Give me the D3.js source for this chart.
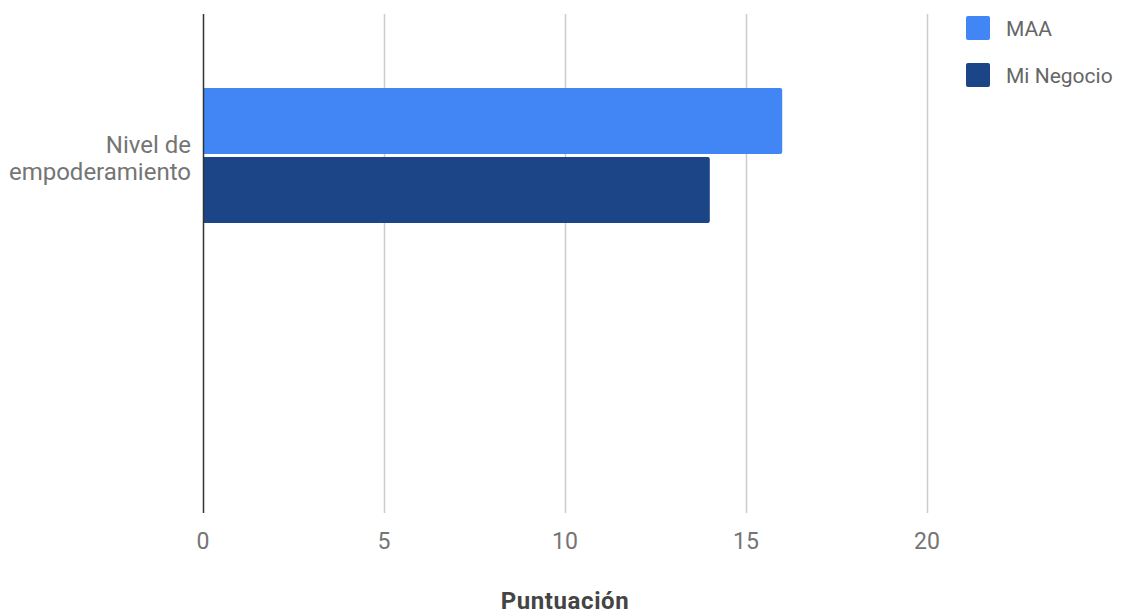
<!DOCTYPE html>
<html>
<head>
    <meta charset="utf-8" />
    <title>Nivel de empoderamiento</title>
    <style>
        body { margin: 0; background: #fff; }
        #chart { width: 1125px; height: 614px; }
        text { font-family: Roboto, "Noto Sans", sans-serif; }
    </style>
</head>
<body>
    <div id="chart"></div>
    <script src="https://cdnjs.cloudflare.com/ajax/libs/d3/7.8.5/d3.min.js"></script>
    <script>
        var categories = ["Nivel de empoderamiento"]
        var categoryLines = [["Nivel de", "empoderamiento"]]
        var seriesNames = ["MAA", "Mi Negocio"]
        var maaValues = [16]
        var negocioValues = [14]
        var xTicks = [0, 5, 10, 15, 20]
        var colors = ["#4285f4", "#1c4587"]
        var axisTitle = "Puntuación"

        var width = 1125, height = 614
        var margin = { top: 14, left: 203, right: 198, bottom: 101 }
        var plotW = width - margin.left - margin.right   // 724
        var plotH = height - margin.top - margin.bottom  // 499

        var svg = d3.select("#chart").append("svg")
            .attr("width", width)
            .attr("height", height)

        var x = d3.scaleLinear().domain([0, 20]).range([margin.left, margin.left + plotW])

        // category band sits in the upper part of the plot
        var y0 = d3.scaleBand().domain(categories)
            .range([margin.top + 74, margin.top + 209])
        var y1 = d3.scaleBand().domain(seriesNames)
            .range([0, y0.bandwidth()])
            .paddingInner(0.045)

        // gridlines
        svg.append("g").selectAll("line")
            .data(xTicks.filter(function (d) { return d !== 0 }))
            .enter().append("line")
            .attr("x1", function (d) { return x(d) + 0.5 })
            .attr("x2", function (d) { return x(d) + 0.5 })
            .attr("y1", margin.top)
            .attr("y2", margin.top + plotH)
            .attr("stroke", "#cccccc")
            .attr("stroke-width", 1.5)

        // bars
        var rows = categories.map(function (c, i) {
            return { cat: c, values: [maaValues[i], negocioValues[i]] }
        })
        var groups = svg.append("g").selectAll("g")
            .data(rows)
            .enter().append("g")
            .attr("transform", function (d) { return "translate(0," + y0(d.cat) + ")" })

        groups.selectAll("path")
            .data(function (d) {
                return d.values.map(function (v, i) { return { key: seriesNames[i], value: v, i: i } })
            })
            .enter().append("path")
            .attr("fill", function (d) { return colors[d.i] })
            .attr("d", function (d) {
                var x0 = x(0), x1 = x(d.value), yt = y1(d.key), h = y1.bandwidth(), r = 2
                return "M" + x0 + "," + yt +
                    "H" + (x1 - r) + "Q" + x1 + "," + yt + " " + x1 + "," + (yt + r) +
                    "V" + (yt + h - r) + "Q" + x1 + "," + (yt + h) + " " + (x1 - r) + "," + (yt + h) +
                    "H" + x0 + "Z"
            })

        // zero axis line
        svg.append("line")
            .attr("x1", x(0) + 0.5).attr("x2", x(0) + 0.5)
            .attr("y1", margin.top).attr("y2", margin.top + plotH)
            .attr("stroke", "#333333")
            .attr("stroke-width", 1.5)

        // category labels
        categories.forEach(function (c, i) {
            var lines = categoryLines[i]
            var cy = y0(c) + y0.bandwidth() / 2
            var t = svg.append("text")
                .attr("text-anchor", "end")
                .attr("fill", "#757575")
                .attr("font-size", 24)
            lines.forEach(function (l, j) {
                t.append("tspan")
                    .attr("x", margin.left - 12)
                    .attr("y", cy + (j - (lines.length - 1) / 2) * 27 + 11)
                    .text(l)
            })
        })

        // x tick labels
        svg.append("g").selectAll("text")
            .data(xTicks)
            .enter().append("text")
            .attr("x", function (d) { return x(d) })
            .attr("y", margin.top + plotH + 36)
            .attr("text-anchor", "middle")
            .attr("fill", "#757575")
            .attr("font-size", 23)
            .text(function (d) { return d })

        // axis title
        svg.append("text")
            .attr("x", x(10))
            .attr("y", 609)
            .attr("text-anchor", "middle")
            .attr("fill", "#444444")
            .attr("font-size", 24)
            .attr("letter-spacing", 0.6)
            .attr("font-weight", "bold")
            .text(axisTitle)

        // legend
        var legend = svg.append("g").selectAll("g")
            .data(seriesNames)
            .enter().append("g")
            .attr("transform", function (d, i) { return "translate(966," + (16 + i * 47) + ")" })
        legend.append("rect")
            .attr("width", 24).attr("height", 24)
            .attr("rx", 2)
            .attr("fill", function (d, i) { return colors[i] })
        legend.append("text")
            .attr("x", 40)
            .attr("y", 20)
            .attr("fill", "#666666")
            .attr("font-size", 21)
            .text(function (d) { return d })
    </script>
</body>
</html>
